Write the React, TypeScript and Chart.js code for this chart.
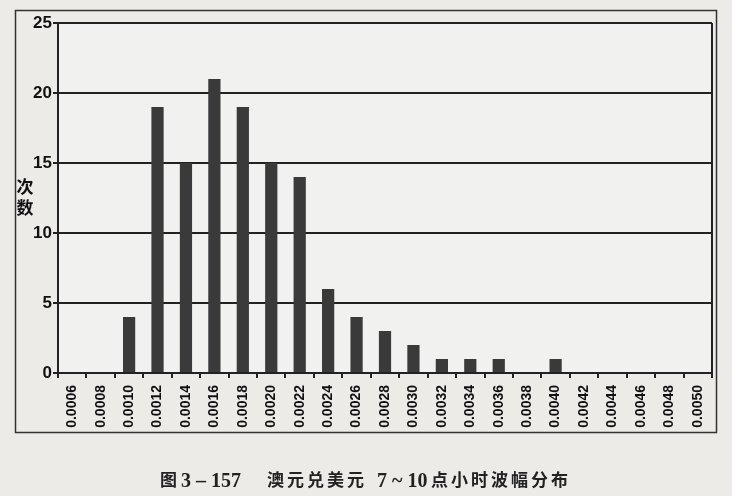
import React, { useEffect, useRef } from "react";
import { Chart, registerables } from "chart.js";

Chart.register(...registerables);

const categories = [
  "0.0006", "0.0008", "0.0010", "0.0012", "0.0014", "0.0016", "0.0018", "0.0020",
  "0.0022", "0.0024", "0.0026", "0.0028", "0.0030", "0.0032", "0.0034", "0.0036",
  "0.0038", "0.0040", "0.0042", "0.0044", "0.0046", "0.0048", "0.0050",
];
const counts = [0, 0, 4, 19, 15, 21, 19, 15, 14, 6, 4, 3, 2, 1, 1, 1, 0, 1, 0, 0, 0, 0, 0];
const yTicks = [0, 5, 10, 15, 20, 25];
const yTitle = ["次", "数"];
const captionParts = [
  { text: "图", left: 160, cjk: true },
  { text: "3 – 157", left: 181, cjk: false },
  { text: "澳元兑美元", left: 267, cjk: true },
  { text: "7 ~ 10", left: 377, cjk: false },
  { text: "点小时波幅分布", left: 431, cjk: true },
];

const framePlugin = {
  id: "frame",
  beforeDraw(chart: any) {
    const { ctx, width, height } = chart;
    ctx.save();
    ctx.fillStyle = "#ecebe8";
    ctx.fillRect(0, 0, width, height);
    const a = chart.chartArea;
    ctx.fillStyle = "#f1f1ef";
    ctx.fillRect(a.left, a.top, a.right - a.left, a.bottom - a.top);
    ctx.restore();
  },
  afterDraw(chart: any) {
    const { ctx } = chart;
    const a = chart.chartArea;
    ctx.save();
    ctx.strokeStyle = "#333";
    ctx.lineWidth = 1.5;
    ctx.strokeRect(15.5, 10.5, 701, 422);
    ctx.strokeStyle = "#222";
    ctx.lineWidth = 2;
    ctx.beginPath();
    ctx.moveTo(a.right, a.top);
    ctx.lineTo(a.right, a.bottom);
    ctx.stroke();
    ctx.restore();
  },
};

export default function App() {
  const ref = useRef<HTMLCanvasElement | null>(null);
  useEffect(() => {
    if (!ref.current) return;
    const chart = new Chart(ref.current, {
      type: "bar",
      data: {
        labels: categories,
        datasets: [
          {
            data: counts,
            backgroundColor: "#3a3a3a",
            borderWidth: 0,
            categoryPercentage: 1,
            barPercentage: 0.43,
          },
        ],
      },
      options: {
        animation: false,
        responsive: false,
        events: [],
        layout: { padding: { left: 0, top: 23, right: 20, bottom: 0 } },
        plugins: { legend: { display: false }, tooltip: { enabled: false } },
        scales: {
          x: {
            afterFit(s: any) {
              s.height = 123;
            },
            grid: {
              offset: true,
              drawOnChartArea: false,
              drawTicks: true,
              tickLength: 5,
              color: "#222",
              lineWidth: 2,
            },
            border: { display: true, color: "#222", width: 2 },
            ticks: {
              minRotation: 90,
              maxRotation: 90,
              autoSkip: false,
              color: "#111",
              padding: 7,
              font: { family: "Liberation Sans", size: 14, weight: "bold" },
            },
          },
          y: {
            min: 0,
            max: 25,
            afterFit(s: any) {
              s.width = 58;
            },
            afterBuildTicks(s: any) {
              s.ticks = yTicks.map((v) => ({ value: v }));
            },
            grid: {
              drawOnChartArea: true,
              drawTicks: true,
              tickLength: 5,
              color: "#222",
              lineWidth: 2,
            },
            border: { display: true, color: "#222", width: 2 },
            ticks: {
              color: "#111",
              padding: 1,
              font: { family: "Liberation Sans", size: 17, weight: "bold" },
            },
          },
        },
      },
      plugins: [framePlugin],
    } as any);
    return () => chart.destroy();
  }, []);

  return (
    <div
      style={{
        position: "absolute",
        left: 0,
        top: 0,
        width: 732,
        height: 496,
        background: "#ecebe8",
        overflow: "hidden",
      }}
    >
      <canvas ref={ref} width={732} height={496} style={{ display: "block" }} />
      <div
        style={{
          position: "absolute",
          left: 15,
          top: 175,
          width: 20,
          fontFamily: "'Noto Sans CJK SC'",
          fontWeight: "bold",
          fontSize: 17,
          lineHeight: "21px",
          color: "#111",
          textAlign: "center",
        }}
      >
        {yTitle.map((c) => (
          <div key={c}>{c}</div>
        ))}
      </div>
      {captionParts.map((p) => (
        <span
          key={p.text}
          style={{
            position: "absolute",
            left: p.left,
            top: p.cjk ? 465 : 466,
            fontFamily: p.cjk ? "'Noto Sans CJK SC'" : "'Liberation Serif'",
            fontWeight: "bold",
            fontSize: p.cjk ? 17 : 20,
            letterSpacing: p.cjk ? 3 : 0,
            lineHeight: "28px",
            color: "#222",
            whiteSpace: "pre",
          }}
        >
          {p.text}
        </span>
      ))}
    </div>
  );
}
